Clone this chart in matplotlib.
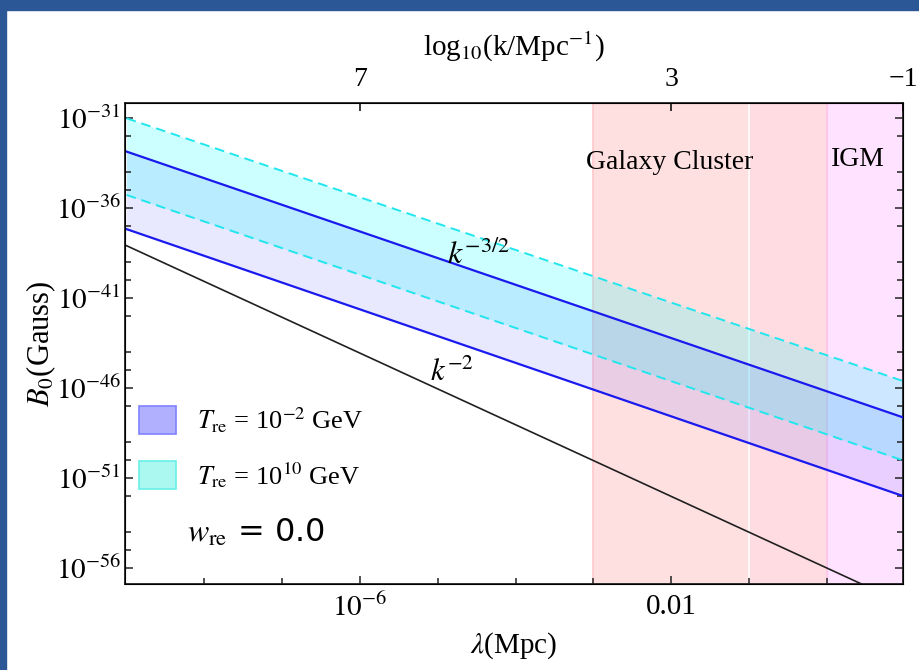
import numpy as np
import matplotlib
matplotlib.use("Agg")
import matplotlib.pyplot as plt
from matplotlib.patches import Patch, Rectangle
from matplotlib.ticker import FixedLocator, FixedFormatter, NullFormatter

plt.rcParams['font.family'] = ['Liberation Serif', 'DejaVu Serif']
plt.rcParams['mathtext.fontset'] = 'stix'

# -----------------------------
# DADOS (log10 do campo nas pontas do intervalo de lambda)
# -----------------------------
lam_ends = [1e-9, 1e1]
lam_lim = [10**-9.02, 10**0.98]

logB_cyan_sup = [-31.02, -45.65]   # T_re = 10^10 GeV, limite superior
logB_cyan_inf = [-35.28, -50.06]   # T_re = 10^10 GeV, limite inferior
logB_azul_sup = [-32.87, -47.67]   # T_re = 10^-2 GeV, limite superior
logB_azul_inf = [-37.18, -52.04]   # T_re = 10^-2 GeV, limite inferior
logB_k2 = [-38.1, -58.0]           # espectro k^-2

# regiões em lambda (Mpc)
regioes = [(1e-3, 1e-1), (1e-1, 1e0), (1e0, 1e1)]
cores_regioes = ['#ffe0e0', '#ffdce2', '#ffe2ff']
bordas_regioes = ['#ffc8cc', 'white', '#ffc0e4']

y_major = [-31, -36, -41, -46, -51, -56]
y_minor = [-32, -34, -35, -37, -39, -40, -42, -44, -45,
           -47, -49, -50, -52, -54, -55]
x_major = [1e-6, 1e-2]
x_major_labels = [r'$10^{-6}$', '0.01']
x_minor = [1e-8, 1e-7, 1e-5, 1e-4, 1e-3, 1e-1, 1e0]
top_ticks = [1e-6, 1e-2, lam_lim[1]]
top_labels = ['7', '3', '\u22121']

lam = np.array(lam_ends)
B = lambda v: 10.0 ** np.array(v)

# -----------------------------
# FIGURA
# -----------------------------
fig = plt.figure(figsize=(9.19, 6.70), dpi=100)
ax = fig.add_axes([125/919, 1 - 584/670, (903-125)/919, (584-103)/670])

# moldura azul do slide
fig.patches.append(Rectangle((0, 1 - 10/670), 1, 10/670, transform=fig.transFigure,
                             color='#2b5797', zorder=0))
fig.patches.append(Rectangle((0, 0), 6/919, 1, transform=fig.transFigure,
                             color='#2b5797', zorder=0))

for (a, b), c, e in zip(regioes, cores_regioes, bordas_regioes):
    ax.axvspan(a, b, facecolor=c, edgecolor=e, lw=1.2, zorder=0)

ax.fill_between(lam, B(logB_azul_inf), B(logB_azul_sup), color=(0.4, 0.4, 1.0),
                alpha=0.15, lw=0, zorder=1)
ax.fill_between(lam, B(logB_cyan_inf), B(logB_cyan_sup), color=(0.0, 1.0, 1.0),
                alpha=0.2, lw=0, zorder=1)

ax.plot(lam, B(logB_cyan_sup), color='#22e6ee', lw=1.4, dashes=(5, 3), zorder=2)
ax.plot(lam, B(logB_cyan_inf), color='#22e6ee', lw=1.4, dashes=(5, 3), zorder=2)
ax.plot(lam, B(logB_azul_sup), color='#1a1aee', lw=1.6, zorder=3)
ax.plot(lam, B(logB_azul_inf), color='#1a1aee', lw=1.6, zorder=3)
ax.plot(lam, B(logB_k2), color='#202020', lw=1.2, zorder=3)

ax.set_xscale('log')
ax.set_yscale('log')
ax.set_xlim(lam_lim)
ax.set_ylim(10**-56.9, 10**-30.17)

ax.yaxis.set_major_locator(FixedLocator([10.0**v for v in y_major]))
ax.yaxis.set_major_formatter(FixedFormatter([r'$10^{%d}$' % v for v in y_major]))
ax.yaxis.set_minor_locator(FixedLocator([10.0**v for v in y_minor]))
ax.yaxis.set_minor_formatter(NullFormatter())
ax.xaxis.set_major_locator(FixedLocator(x_major))
ax.xaxis.set_major_formatter(FixedFormatter(x_major_labels))
ax.xaxis.set_minor_locator(FixedLocator(x_minor))
ax.xaxis.set_minor_formatter(NullFormatter())

ax.tick_params(which='both', direction='in', right=True, top=False, width=1.1,
               labelsize=21, color='#222222')
ax.tick_params(which='major', length=6)
ax.tick_params(which='minor', length=4)
ax.tick_params(axis='x', pad=7)
ax.tick_params(axis='y', pad=3)
for s in ax.spines.values():
    s.set_linewidth(1.3)
    s.set_color('#222222')

ax.set_xlabel(r'$\lambda$(Mpc)', fontsize=21, labelpad=6)
ax.set_ylabel(r'$B_0$(Gauss)', fontsize=22, labelpad=-2)

# eixo de cima: log10(k)
ax_top = ax.twiny()
ax_top.set_xscale('log')
ax_top.set_xlim(ax.get_xlim())
ax_top.xaxis.set_major_locator(FixedLocator(top_ticks))
ax_top.xaxis.set_major_formatter(FixedFormatter(top_labels))
ax_top.xaxis.set_minor_locator(FixedLocator([]))
ax_top.tick_params(direction='in', length=6, width=1.1, labelsize=20, pad=8)
ax_top.set_xlabel(r'log$_{10}$(k/Mpc$^{-1}$)', fontsize=21, labelpad=8)

# textos
ax.text(10**-2.02, 10**-33.45, 'Galaxy Cluster', fontsize=20, ha='center', va='center')
ax.text(10**0.4, 10**-33.3, 'IGM', fontsize=20, ha='center', va='center')
ax.text(10**-4.48, 10**-38.65, r'$k^{-3/2}$', fontsize=23, ha='center', va='center')
ax.text(10**-4.82, 10**-45.2, r'$k^{-2}$', fontsize=22, ha='center', va='center')

# legenda
h = [Patch(facecolor='#b0b0ff', edgecolor='#8080ff', lw=1.2),
     Patch(facecolor='#aaf8f0', edgecolor='#66f0e8', lw=1.2)]
leg = ax.legend(h, [r'$T_{\rm re}$ = 10$^{-2}$ GeV', r'$T_{\rm re}$ = 10$^{10}$ GeV'],
                loc='upper left', bbox_to_anchor=(-0.009, 0.415), frameon=False,
                fontsize=19, handlelength=1.4, handleheight=1.25,
                handletextpad=0.8, labelspacing=0.95, borderpad=0.3)
ax.text(0.08, 0.105, r'$w_{\rm re}$ = 0.0', transform=ax.transAxes, fontsize=23,
        ha='left', va='center', family=['DejaVu Sans'])

fig.savefig('out.png', dpi=100)
